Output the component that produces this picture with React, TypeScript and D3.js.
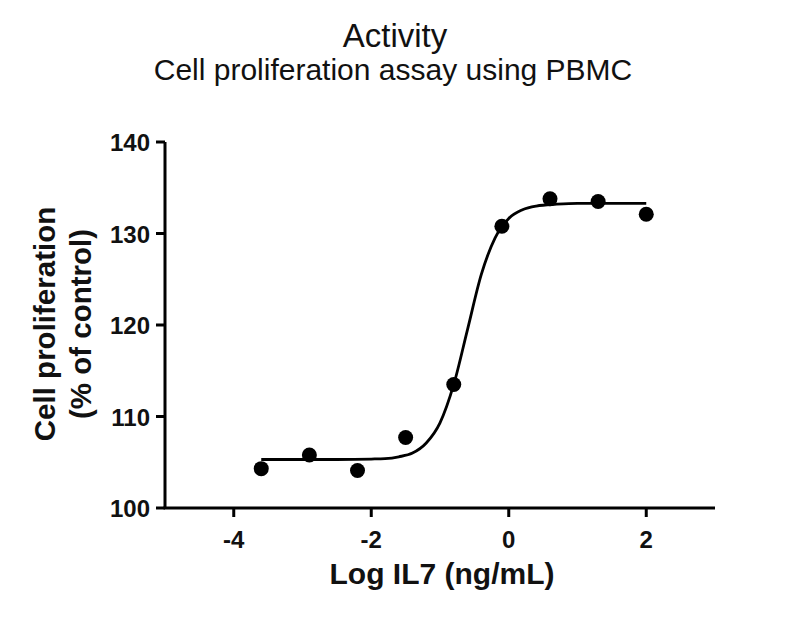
import React, { useRef, useEffect } from 'react';
import * as d3 from 'd3';

// measured points (log IL7 ng/mL vs % of control)
const doseLog = [-3.6, -2.9, -2.2, -1.5, -0.8, -0.1, 0.6, 1.3, 2.0];
const prolif = [104.3, 105.8, 104.1, 107.7, 113.5, 130.8, 133.8, 133.5, 132.1];

// fitted sigmoid
const fitX = [-3.6, -2.5, -2.0, -1.8, -1.6, -1.4, -1.2, -1.0, -0.8, -0.6, -0.4, -0.2, 0.0, 0.2, 0.4, 0.7, 1.0, 2.0];
const fitY = [105.3, 105.3, 105.35, 105.4, 105.6, 106.0, 107.1, 109.3, 113.5, 119.5, 125.5, 129.5, 131.65, 132.6, 133.0, 133.2, 133.3, 133.3];

const xTicks = [-4, -2, 0, 2];
const yTicks = [100, 110, 120, 130, 140];

const FONT = 'Liberation Sans, Arial, sans-serif';

export default function App() {
  const svgRef = useRef<SVGSVGElement>(null);

  useEffect(() => {
    const svg = d3.select(svgRef.current);
    svg.selectAll('*').remove();

    const width = 800;
    const height = 622;
    const x = d3.scaleLinear().domain([-5, 3]).range([165, 715]);
    const y = d3.scaleLinear().domain([100, 140]).range([508, 142]);

    svg.append('rect').attr('width', width).attr('height', height).attr('fill', 'white');

    // Titles
    svg.append('text').attr('x', 395).attr('y', 47).attr('text-anchor', 'middle')
      .attr('font-family', FONT).attr('font-size', 33).attr('fill', '#111').text('Activity');
    svg.append('text').attr('x', 393).attr('y', 80).attr('text-anchor', 'middle')
      .attr('font-family', FONT).attr('font-size', 30).attr('fill', '#111')
      .text('Cell proliferation assay using PBMC');

    // Axes
    const axisStroke = 3;
    svg.append('line').attr('x1', x(-5)).attr('x2', x(-5)).attr('y1', y(140)).attr('y2', y(100))
      .attr('stroke', '#000').attr('stroke-width', axisStroke);
    svg.append('line').attr('x1', x(-5) - 1.5).attr('x2', x(3)).attr('y1', y(100)).attr('y2', y(100))
      .attr('stroke', '#000').attr('stroke-width', axisStroke);

    yTicks.forEach((t) => {
      svg.append('line').attr('x1', x(-5) - 9).attr('x2', x(-5)).attr('y1', y(t)).attr('y2', y(t))
        .attr('stroke', '#000').attr('stroke-width', axisStroke);
      svg.append('text').attr('x', x(-5) - 15).attr('y', y(t) + 9).attr('text-anchor', 'end')
        .attr('font-family', FONT).attr('font-weight', 'bold').attr('font-size', 24)
        .attr('fill', '#111').text(t);
    });

    xTicks.forEach((t) => {
      svg.append('line').attr('x1', x(t)).attr('x2', x(t)).attr('y1', y(100)).attr('y2', y(100) + 9)
        .attr('stroke', '#000').attr('stroke-width', axisStroke);
      svg.append('text').attr('x', x(t)).attr('y', 548).attr('text-anchor', 'middle')
        .attr('font-family', FONT).attr('font-weight', 'bold').attr('font-size', 24)
        .attr('fill', '#111').text(t);
    });

    // Axis titles
    svg.append('text').attr('x', 442).attr('y', 584).attr('text-anchor', 'middle')
      .attr('font-family', FONT).attr('font-weight', 'bold').attr('font-size', 30)
      .attr('fill', '#111').text('Log IL7 (ng/mL)');
    const yl = svg.append('g').attr('transform', 'translate(0,324) rotate(-90)');
    yl.append('text').attr('x', 0).attr('y', 55).attr('text-anchor', 'middle')
      .attr('font-family', FONT).attr('font-weight', 'bold').attr('font-size', 29.5)
      .attr('fill', '#111').text('Cell proliferation');
    yl.append('text').attr('x', 0).attr('y', 91).attr('text-anchor', 'middle')
      .attr('font-family', FONT).attr('font-weight', 'bold').attr('font-size', 29.5)
      .attr('fill', '#111').text('(% of control)');

    // Fitted curve
    const fit = fitX.map((v, i) => [v, fitY[i]] as [number, number]);
    const line = d3.line<[number, number]>()
      .x((d) => x(d[0]))
      .y((d) => y(d[1]))
      .curve(d3.curveMonotoneX);
    svg.append('path').datum(fit).attr('d', line)
      .attr('fill', 'none').attr('stroke', '#000').attr('stroke-width', 2.8);

    // Points
    svg.selectAll('.pt').data(doseLog).enter()
      .append('circle')
      .attr('cx', (d) => x(d))
      .attr('cy', (_d, i) => y(prolif[i]))
      .attr('r', 7.5)
      .attr('fill', '#000');
  }, []);

  return (
    <div style={{ position: 'absolute', left: 0, top: 0 }}>
      <svg ref={svgRef} width={800} height={622} style={{ display: 'block' }} />
    </div>
  );
}
